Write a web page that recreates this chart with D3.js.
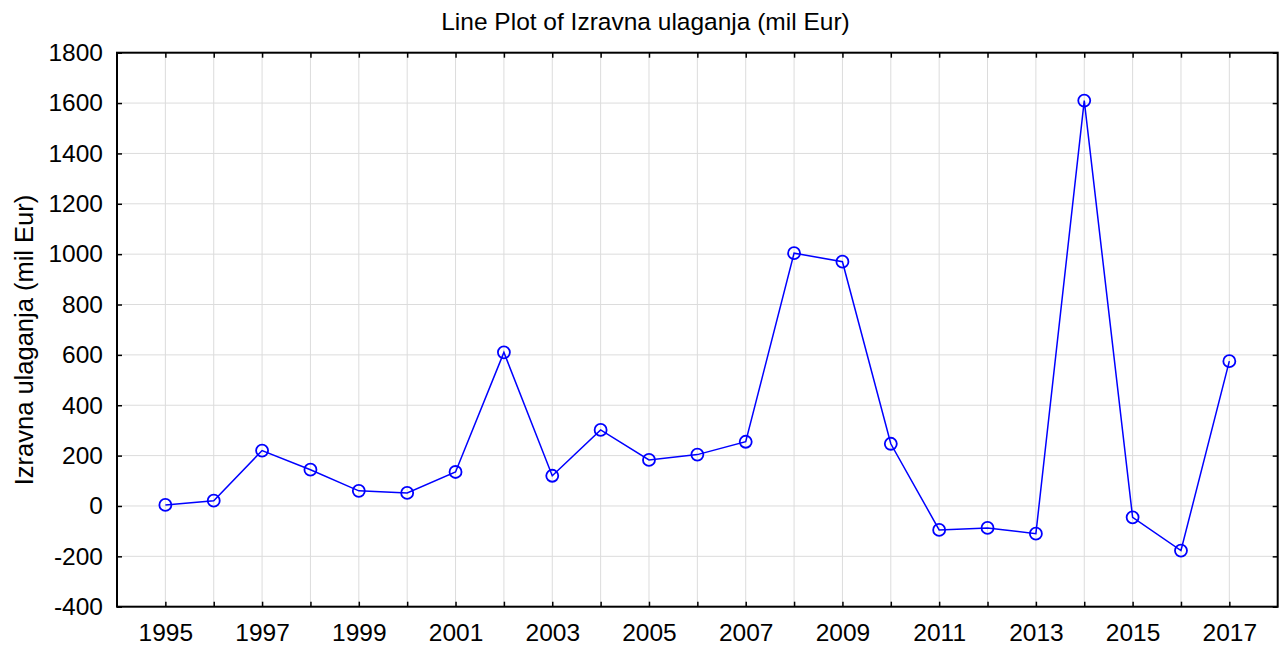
<!DOCTYPE html>
<html><head><meta charset="utf-8">
<script src="https://cdn.jsdelivr.net/npm/d3@7"></script>
<style>body{margin:0;background:#fff}svg{display:block}text{font-family:"Liberation Sans",Arial,sans-serif;fill:#000}</style>
</head><body>
<svg id="c" width="1285" height="646"></svg>
<script>
const years = [1995,1996,1997,1998,1999,2000,2001,2002,2003,2004,2005,2006,2007,2008,2009,2010,2011,2012,2013,2014,2015,2016,2017];
const values = [4,21,220,144,60,52,135,610,120,302,183,204,255,1004,970,247,-95,-87,-110,1610,-45,-177,575];
const xTickLabels = [1995,1997,1999,2001,2003,2005,2007,2009,2011,2013,2015,2017];
const yTicks = [-400,-200,0,200,400,600,800,1000,1200,1400,1600,1800];

const svg = d3.select("#c");
const L=117, R=1277.7, T=52.7, B=606.7;
const x = d3.scaleLinear().domain([1994,2018]).range([L,R]);
const y = d3.scaleLinear().domain([-400,1800]).range([B,T]);
const allYears = d3.range(1995,2018);
const FS = "24.5px";

const g = svg.append("g");
g.selectAll(".vg").data(allYears).join("line")
  .attr("x1",d=>x(d)).attr("x2",d=>x(d)).attr("y1",T).attr("y2",B)
  .attr("stroke","#dcdcdc").attr("stroke-width",1);
g.selectAll(".hg").data(yTicks.slice(1,-1)).join("line")
  .attr("x1",L).attr("x2",R).attr("y1",d=>y(d)).attr("y2",d=>y(d))
  .attr("stroke","#dcdcdc").attr("stroke-width",1);

const xAxisB = d3.axisBottom(x).tickValues(allYears).tickSizeInner(-5).tickSizeOuter(0)
  .tickFormat(d=>xTickLabels.includes(d)?String(d):"");
const gx = svg.append("g").attr("transform",`translate(0,${B})`).call(xAxisB);
const xAxisT = d3.axisTop(x).tickValues(allYears).tickSizeInner(-5).tickSizeOuter(0).tickFormat("");
const gxt = svg.append("g").attr("transform",`translate(0,${T})`).call(xAxisT);
const yAxisL = d3.axisLeft(y).tickValues(yTicks).tickSizeInner(-5).tickSizeOuter(0).tickFormat(d=>String(d)).tickPadding(14);
const gy = svg.append("g").attr("transform",`translate(${L},0)`).call(yAxisL);
const yAxisR = d3.axisRight(y).tickValues(yTicks).tickSizeInner(-5).tickSizeOuter(0).tickFormat("");
const gyr = svg.append("g").attr("transform",`translate(${R},0)`).call(yAxisR);
[gx,gxt,gy,gyr].forEach(a=>{
  a.select(".domain").remove();
  a.selectAll(".tick line").attr("stroke","#000").attr("stroke-width",1.5);
  a.selectAll("text").style("font-size",FS).style("font-family","'Liberation Sans',Arial,sans-serif").attr("fill","#000");
});
gx.selectAll("text").attr("dy",null).attr("y",34.5);
svg.append("rect").attr("x",L).attr("y",T).attr("width",R-L).attr("height",B-T)
  .attr("fill","none").attr("stroke","#000").attr("stroke-width",2);

const line = d3.line().x((d,i)=>x(years[i])).y(d=>y(d));
svg.append("path").datum(values).attr("d",line).attr("fill","none").attr("stroke","#0000ff").attr("stroke-width",1.5);
svg.selectAll(".pt").data(values).join("circle")
  .attr("cx",(d,i)=>x(years[i])).attr("cy",d=>y(d)).attr("r",6)
  .attr("fill","none").attr("stroke","#0000ff").attr("stroke-width",1.8);

svg.append("text").attr("x",645.5).attr("y",30).attr("text-anchor","middle")
  .style("font-size","24.5px").text("Line Plot of Izravna ulaganja (mil Eur)");
svg.append("text").attr("transform",`translate(33,340) rotate(-90)`).attr("text-anchor","middle")
  .style("font-size","25.5px").text("Izravna ulaganja (mil Eur)");
</script>
</body></html>
